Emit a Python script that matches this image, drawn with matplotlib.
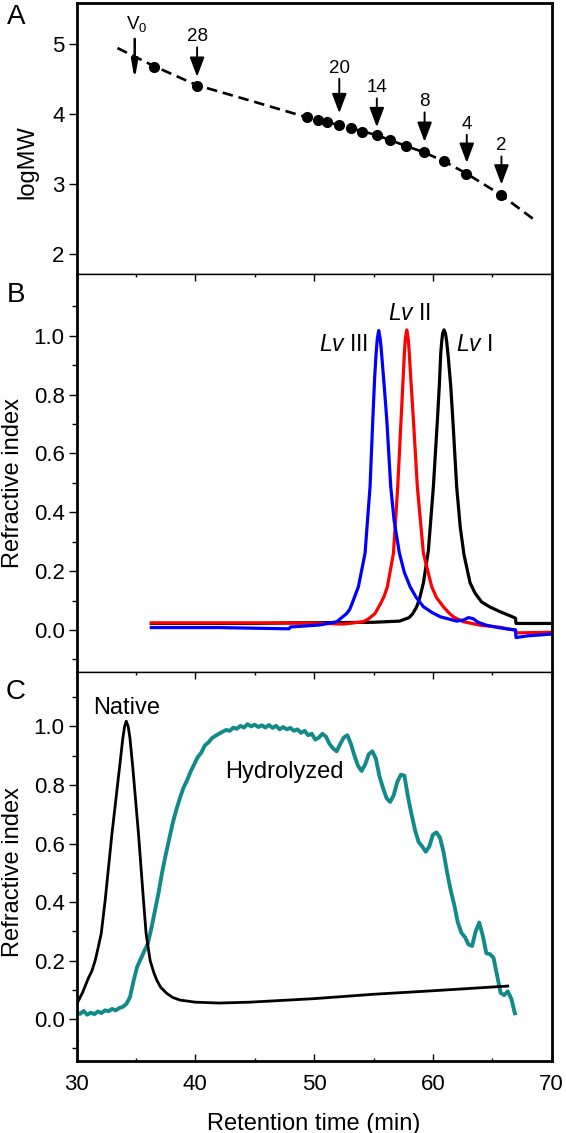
import matplotlib
matplotlib.use("Agg")
import matplotlib.pyplot as plt
from matplotlib.ticker import MultipleLocator, FixedLocator

plt.rcParams["font.family"] = ["Liberation Sans", "DejaVu Sans"]
plt.rcParams["mathtext.fontset"] = "custom"
plt.rcParams["mathtext.rm"] = "Liberation Sans"
plt.rcParams["mathtext.it"] = "Liberation Sans:italic"

# ---- panel A: calibration (retention time vs logMW)
std_x = [36.54, 40.13, 49.4, 50.29, 51.07, 52.1, 53.09, 54.07, 55.28, 56.42,
         57.74, 59.26, 60.94, 62.79, 65.74]
std_y = [4.667, 4.404, 3.95, 3.915, 3.885, 3.843, 3.80, 3.743, 3.695, 3.629,
         3.533, 3.448, 3.319, 3.143, 2.833]
fit_x = [33.45, 36.54, 40.13, 45.0, 49.4, 52.1, 55.28, 57.74, 59.26, 60.94, 62.79, 65.74, 68.5]
fit_y = [4.94, 4.68, 4.41, 4.17, 3.95, 3.84, 3.695, 3.54, 3.45, 3.32, 3.15, 2.84, 2.49]
arrow_labels = ["28", "20", "14", "8", "4", "2"]
arrow_x = [40.15, 52.12, 55.28, 59.3, 62.85, 65.77]
arrow_top = [4.95, 4.50, 4.22, 4.02, 3.70, 3.39]
arrow_tip = [4.53, 4.01, 3.81, 3.60, 3.30, 2.99]
v0_x, v0_top, v0_tip = 34.9, 5.07, 4.49

# ---- panel B: Lv I, II, III chromatograms
lv1_x = [36.3, 45.0, 48.0, 52.0, 55.0, 57.2, 58.0, 58.3, 58.64, 58.9, 59.2, 59.62,
         60.04, 60.38, 60.54, 60.66, 60.74, 60.82, 60.94, 61.06, 61.16, 61.3, 61.5,
         61.7, 62.0, 62.3, 62.62, 63.13, 63.55, 64.1, 64.8, 65.65, 66.5, 66.95,
         67.0, 70.0]
lv1_y = [0.022, 0.022, 0.024, 0.025, 0.026, 0.03, 0.042, 0.055, 0.079, 0.11, 0.16,
         0.27, 0.487, 0.714, 0.83, 0.94, 0.98, 1.008, 1.02, 1.008, 0.98, 0.925, 0.83,
         0.70, 0.487, 0.35, 0.255, 0.16, 0.125, 0.095, 0.078, 0.062, 0.048, 0.04,
         0.022, 0.022]
lv2_x = [36.3, 45.0, 50.0, 52.47, 54.15, 54.6, 55.13, 55.6, 55.9, 56.17, 56.68,
         57.04, 57.32, 57.5, 57.6, 57.68, 57.8, 57.92, 58.0, 58.1, 58.36, 58.69,
         59.2, 59.9, 60.3, 60.88, 61.3, 61.7, 62.56, 64.0, 65.65, 66.5, 66.95,
         67.0, 70.0]
lv2_y = [0.024, 0.024, 0.023, 0.02, 0.028, 0.038, 0.056, 0.09, 0.115, 0.147, 0.261,
         0.487, 0.714, 0.86, 0.94, 0.99, 1.02, 0.99, 0.95, 0.88, 0.714, 0.487,
         0.261, 0.147, 0.11, 0.079, 0.06, 0.045, 0.028, 0.016, 0.009, 0.002, 0.0,
         -0.01, -0.008]
lv3_x = [36.3, 42.0, 47.5, 47.9, 48.0, 50.5, 51.91, 52.75, 53.0, 53.2, 53.73, 54.29,
         54.71, 54.94, 55.1, 55.22, 55.32, 55.44, 55.56, 55.64, 55.7, 55.9, 56.12,
         56.45, 56.73, 57.18, 57.6, 58.08, 58.6, 59.2, 59.9, 60.6, 62.0, 62.6, 63.0,
         63.4, 63.8, 64.5, 65.5, 66.5, 66.95, 67.0, 68.0, 70.0]
lv3_y = [0.008, 0.008, 0.004, 0.004, 0.01, 0.017, 0.028, 0.056, 0.07, 0.09, 0.147,
         0.261, 0.487, 0.714, 0.86, 0.94, 0.99, 1.018, 0.99, 0.96, 0.93, 0.83, 0.714,
         0.487, 0.374, 0.261, 0.195, 0.147, 0.11, 0.079, 0.06, 0.045, 0.03, 0.034,
         0.042, 0.038, 0.026, 0.016, 0.008, 0.002, 0.0, -0.026, -0.02, -0.014]

# ---- panel C: native vs hydrolyzed
nat_x = [30.0, 30.5, 31.0, 31.3, 31.57, 31.8, 32.08, 32.41, 32.98, 33.62, 33.9,
         34.05, 34.19, 34.35, 34.5, 34.74, 35.22, 35.64, 35.86, 36.2, 36.5, 36.76,
         37.1, 37.6, 38.1, 38.73, 40.0, 42.0, 44.6, 50.0, 55.0, 60.0, 66.3]
nat_y = [0.05, 0.09, 0.14, 0.165, 0.2, 0.24, 0.292, 0.405, 0.632, 0.859, 0.96,
         1.0, 1.018, 1.0, 0.96, 0.859, 0.632, 0.405, 0.292, 0.2, 0.16, 0.133,
         0.108, 0.088, 0.074, 0.065, 0.058, 0.055, 0.058, 0.07, 0.085, 0.097, 0.113]
hyd_x = [30.0, 30.3, 30.6, 30.9, 31.2, 31.5, 31.8, 32.1, 32.4, 32.7, 33.0, 33.3,
         33.6, 33.9, 34.2, 34.5, 34.8, 35.1, 35.4, 35.7, 36.0, 36.3, 36.6, 36.9,
         37.2, 37.5, 37.8, 38.1, 38.4, 38.7, 39.0, 39.3, 39.6, 39.9, 40.2, 40.5,
         40.8, 41.1, 41.4, 41.7, 42.0, 42.3, 42.6, 42.9, 43.2, 43.5, 43.8, 44.1,
         44.4, 44.7, 45.0, 45.3, 45.6, 45.9, 46.2, 46.5, 46.8, 47.1, 47.4, 47.7,
         48.0, 48.3, 48.6, 48.9, 49.2, 49.5, 49.8, 50.1, 50.4, 50.7, 51.0, 51.3,
         51.6, 51.9, 52.2, 52.5, 52.8, 53.1, 53.4, 53.7, 54.0, 54.3, 54.6, 54.9,
         55.2, 55.5, 55.8, 56.1, 56.4, 56.7, 57.0, 57.3, 57.6, 57.9, 58.2, 58.5,
         58.8, 59.1, 59.4, 59.7, 60.0, 60.3, 60.6, 60.9, 61.2, 61.5, 61.8, 62.1,
         62.4, 62.7, 63.0, 63.3, 63.6, 63.9, 64.2, 64.5, 64.8, 65.1, 65.4, 65.7,
         66.0, 66.3, 66.6, 66.9]
hyd_y = [0.025, 0.018, 0.028, 0.015, 0.022, 0.017, 0.026, 0.021, 0.030, 0.027,
         0.035, 0.030, 0.038, 0.042, 0.052, 0.075, 0.13, 0.178, 0.205, 0.232,
         0.258, 0.31, 0.37, 0.43, 0.50, 0.56, 0.615, 0.67, 0.715, 0.755, 0.79,
         0.815, 0.845, 0.87, 0.895, 0.91, 0.935, 0.945, 0.96, 0.968, 0.975, 0.982,
         0.988, 0.985, 0.996, 0.992, 1.002, 0.996, 1.008, 1.0, 1.006, 0.998, 1.004,
         0.996, 1.005, 0.995, 1.002, 0.99, 0.998, 0.99, 0.995, 0.985, 0.99, 0.978,
         0.985, 0.97, 0.975, 0.955, 0.962, 0.975, 0.965, 0.94, 0.925, 0.915, 0.94,
         0.962, 0.97, 0.94, 0.90, 0.865, 0.848, 0.87, 0.905, 0.915, 0.89, 0.83,
         0.79, 0.755, 0.742, 0.765, 0.81, 0.835, 0.832, 0.76, 0.70, 0.645, 0.605,
         0.59, 0.572, 0.59, 0.63, 0.638, 0.62, 0.57, 0.50, 0.44, 0.39, 0.33, 0.295,
         0.28, 0.255, 0.25, 0.30, 0.33, 0.285, 0.225, 0.222, 0.21, 0.15, 0.09,
         0.082, 0.095, 0.07, 0.02]

ri_major = [0.0, 0.2, 0.4, 0.6, 0.8, 1.0]
ri_minor = [-0.1, 0.1, 0.3, 0.5, 0.7, 0.9, 1.1]

W, H = 566, 1133
fig = plt.figure(figsize=(W / 100, H / 100), dpi=100)


def box(top, bottom):
    left, right = 76.5, 551.7
    return [left / W, 1 - bottom / H, (right - left) / W, (bottom - top) / H]


axA = fig.add_axes(box(3.3, 274))
axB = fig.add_axes(box(274, 671.7))
axC = fig.add_axes(box(671.7, 1061))

for ax in (axA, axB, axC):
    ax.set_xlim(30, 70)
    ax.xaxis.set_major_locator(MultipleLocator(10))
    ax.xaxis.set_minor_locator(MultipleLocator(5))
    ax.tick_params(axis="y", which="major", direction="out", length=6, width=1,
                   labelsize=16, pad=2.5)
    ax.tick_params(axis="y", which="minor", direction="out", length=3.5, width=1)
    ax.tick_params(axis="x", which="major", direction="in", length=4.8, width=1,
                   labelsize=16, pad=9)
    ax.tick_params(axis="x", which="minor", direction="in", length=2.5, width=1)
    for side in ("left", "right"):
        ax.spines[side].set_linewidth(2.0)
    ax.spines["top"].set_linewidth(1.0)
    ax.spines["bottom"].set_linewidth(1.0)

# A
axA.spines["top"].set_linewidth(2.0)
axA.set_ylim(1.71, 5.58)
axA.yaxis.set_major_locator(MultipleLocator(1))
axA.tick_params(axis="x", which="both", bottom=False, top=False, labelbottom=False)
axA.plot(fit_x, fit_y, color="black", lw=1.9, linestyle=(0, (4.0, 2.2)))
axA.plot(std_x, std_y, "o", color="black", ms=7)
for lab, x, t0, t1 in zip(arrow_labels, arrow_x, arrow_top, arrow_tip):
    axA.annotate("", xy=(x, t1), xytext=(x, t0),
                 arrowprops=dict(arrowstyle="-|>,head_width=0.32,head_length=0.85",
                                 color="black", lw=1.4, mutation_scale=14,
                                 shrinkA=0, shrinkB=0))
    axA.text(x, t0 + 0.03, lab, ha="center", va="bottom", fontsize=13.5)
axA.annotate("", xy=(v0_x, v0_tip), xytext=(v0_x, v0_top),
             arrowprops=dict(arrowstyle="-|>,head_width=0.16,head_length=0.9",
                             color="black", lw=1.8, mutation_scale=12,
                             shrinkA=0, shrinkB=0))
axA.text(v0_x + 0.2, v0_top + 0.07, r"V$_{\mathregular{0}}$", ha="center", va="bottom",
         fontsize=13.5)

# B
axB.set_ylim(-0.142, 1.21)
axB.yaxis.set_major_locator(FixedLocator(ri_major))
axB.yaxis.set_minor_locator(FixedLocator(ri_minor))
axB.yaxis.set_major_formatter(lambda v, p: f"{v:.1f}")
axB.tick_params(axis="x", which="both", bottom=False, top=True, labelbottom=False)
axB.plot(lv1_x, lv1_y, color="black", lw=2.3)
axB.plot(lv2_x, lv2_y, color="#ff0000", lw=2.3)
axB.plot(lv3_x, lv3_y, color="#0000ff", lw=2.3)
axB.text(52.45, 0.969, r"$\mathit{Lv}$ III", ha="center", va="center", fontsize=16.5)
axB.text(58.05, 1.075, r"$\mathit{Lv}$ II", ha="center", va="center", fontsize=16.5)
axB.text(63.45, 0.969, r"$\mathit{Lv}$ I", ha="center", va="center", fontsize=16.5)

# C
axC.spines["bottom"].set_linewidth(2.0)
axC.set_ylim(-0.143, 1.187)
axC.yaxis.set_major_locator(FixedLocator(ri_major))
axC.yaxis.set_minor_locator(FixedLocator(ri_minor))
axC.yaxis.set_major_formatter(lambda v, p: f"{v:.1f}")
axC.tick_params(axis="x", which="both", bottom=True, top=True)
axC.plot(hyd_x, hyd_y, color="#138a8a", lw=2.8)
axC.plot(nat_x, nat_y, color="black", lw=2.0)
axC.text(34.25, 1.063, "Native", ha="center", va="center", fontsize=17)
axC.text(47.5, 0.845, "Hydrolyzed", ha="center", va="center", fontsize=17)
axC.set_xlabel("Retention time (min)", fontsize=17, labelpad=13)

# axis titles and panel letters
fig.text(27.5 / W, 1 - 162 / H, "logMW", rotation=90, ha="center", va="center", fontsize=17)
fig.text(13 / W, 1 - 483 / H, "Refractive index", rotation=90, ha="center", va="center",
         fontsize=17)
fig.text(13 / W, 1 - 872 / H, "Refractive index", rotation=90, ha="center", va="center",
         fontsize=17)
for lab, yy in (("A", 17), ("B", 295), ("C", 692)):
    fig.text(16 / W, 1 - yy / H, lab, ha="center", va="center", fontsize=20)

fig.savefig("out.png", dpi=100)
